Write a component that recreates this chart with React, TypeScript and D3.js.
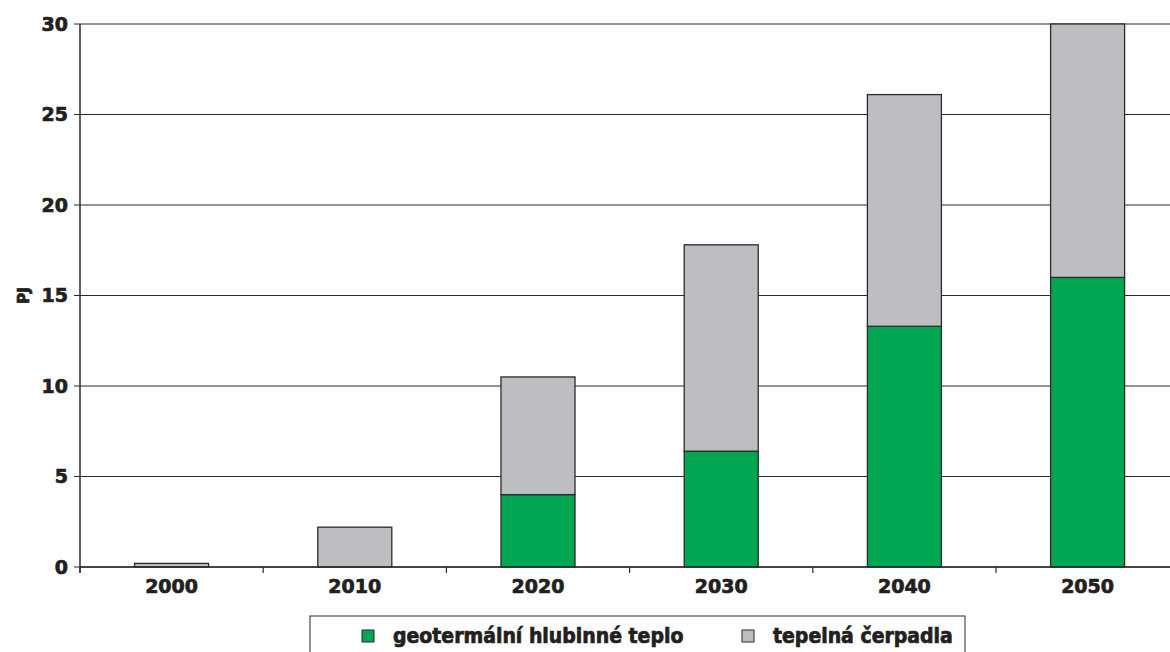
import React from "react";
import * as d3 from "d3";

// Heat supply outlook (PJ) by decade
const years = ["2000", "2010", "2020", "2030", "2040", "2050"];
const geothermal = [0, 0, 4.0, 6.4, 13.3, 16.0];
const heatPumps = [0.2, 2.2, 6.5, 11.4, 12.8, 14.0];
const yTicks = [0, 5, 10, 15, 20, 25, 30];
const seriesNames = ["geotermální hlubinné teplo", "tepelná čerpadla"];
const seriesColors = ["#00A651", "#BDBEC2"];

const W = 1170;
const H = 652;
const left = 80;
const top = 24;
const bottom = 567;
const bandStep = 183.2;

export default function App() {
  const x = d3
    .scaleBand<string>()
    .domain(years)
    .range([left, left + bandStep * years.length])
    .paddingInner(0.596)
    .paddingOuter(0.298);
  const y = d3.scaleLinear().domain([0, 30]).range([bottom, top]);

  const stacked = years.map((yr, i) => {
    const g = geothermal[i];
    const h = heatPumps[i];
    return { yr, segs: [[0, g], [g, g + h]] as [number, number][] };
  });

  const font = "'DejaVu Sans', sans-serif";
  const legendFont = "'DejaVu Sans Condensed', 'DejaVu Sans', sans-serif";
  const ink = "#231f20";
  const heavy = { stroke: ink, strokeWidth: 0.7, paintOrder: "stroke" as const };

  return (
    <svg
      width={W}
      height={H}
      style={{ position: "absolute", left: 0, top: 0, background: "#fff" }}
    >
      {/* horizontal grid */}
      {yTicks.map((t) => (
        <line
          key={"g" + t}
          x1={left - 6}
          x2={W}
          y1={y(t)}
          y2={y(t)}
          stroke="#2b2b2b"
          strokeWidth={1.2}
        />
      ))}
      {/* y axis */}
      <line x1={left} x2={left} y1={top} y2={bottom + 6} stroke="#2b2b2b" strokeWidth={1.5} />
      {yTicks.map((t) => (
        <text
          key={"yl" + t}
          x={left - 12}
          y={y(t)}
          dy="0.36em"
          textAnchor="end"
          fontFamily={font}
          fontWeight="bold"
          fontSize={19}
          fill={ink}
          {...heavy}
        >
          {t}
        </text>
      ))}
      <text
        transform={`translate(${24},${(top + bottom) / 2}) rotate(-90)`}
        textAnchor="middle"
        dy="0.36em"
        fontFamily={font}
        fontWeight="bold"
        fontSize={15}
        fill={ink}
        {...heavy}
      >
        PJ
      </text>
      {/* category boundary ticks */}
      {d3.range(years.length + 1).map((i) => (
        <line
          key={"xt" + i}
          x1={left + i * bandStep}
          x2={left + i * bandStep}
          y1={bottom}
          y2={bottom + 6}
          stroke="#2b2b2b"
          strokeWidth={1.2}
        />
      ))}
      {/* bars */}
      {stacked.map((d) =>
        d.segs.map(([a, b], k) =>
          b - a > 0 ? (
            <rect
              key={d.yr + k}
              x={x(d.yr)}
              width={x.bandwidth()}
              y={y(b)}
              height={y(a) - y(b)}
              fill={seriesColors[k]}
              stroke="#2b2b2b"
              strokeWidth={1.3}
            />
          ) : null
        )
      )}
      <line x1={left} x2={W} y1={bottom} y2={bottom} stroke="#2b2b2b" strokeWidth={1.5} />
      {years.map((yr) => (
        <text
          key={"xl" + yr}
          x={(x(yr) as number) + x.bandwidth() / 2}
          y={593}
          textAnchor="middle"
          fontFamily={font}
          fontWeight="bold"
          fontSize={19}
          fill={ink}
          {...heavy}
        >
          {yr}
        </text>
      ))}
      {/* legend */}
      <rect x={310} y={616} width={655} height={50} fill="#fff" stroke="#2b2b2b" strokeWidth={1} />
      {[362, 742].map((lx, i) => (
        <g key={"lg" + i}>
          <rect
            x={lx}
            y={630}
            width={12}
            height={12}
            fill={seriesColors[i]}
            stroke="#2b2b2b"
            strokeWidth={1}
          />
          <text
            x={lx + 31}
            y={643}
            fontFamily={legendFont}
            fontWeight="bold"
            fontSize={21}
            fill={ink}
            {...heavy}
          >
            {seriesNames[i]}
          </text>
        </g>
      ))}
    </svg>
  );
}
